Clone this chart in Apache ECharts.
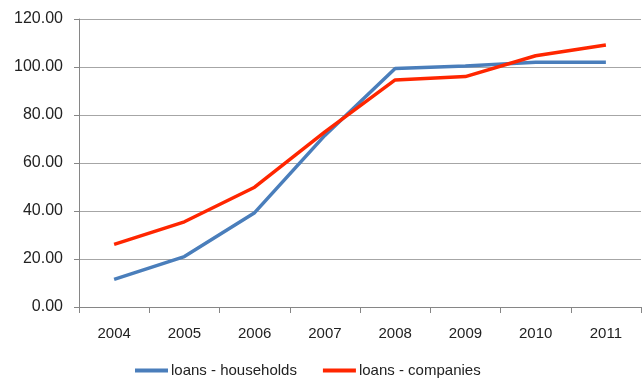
<!DOCTYPE html>
<html><head><meta charset="utf-8">
<script src="https://cdn.jsdelivr.net/npm/echarts@6/dist/echarts.min.js"></script>
<style>html,body{margin:0;padding:0;background:#fff}#c{width:642px;height:379px}</style>
</head><body><div id="c"></div>
<script>
const categories = ['2004','2005','2006','2007','2008','2009','2010','2011'];
const households = [11.5, 21.0, 39.3, 71.5, 99.4, 100.4, 102.0, 102.0];
const companies = [26.1, 35.5, 49.9, 73.0, 94.6, 96.0, 104.7, 109.2];
const seriesNames = ['loans - households', 'loans - companies'];
const FONT = '"Liberation Sans", Arial, sans-serif';
const chart = echarts.init(document.getElementById('c'), null, {renderer: 'canvas'});
chart.setOption({
  animation: false,
  grid: {left: 79, right: 1, top: 19, bottom: 72, containLabel: false},
  legend: {
    top: 358, left: 130, itemGap: 26, itemWidth: 33, itemHeight: 4,
    icon: 'rect',
    textStyle: {fontFamily: FONT, fontSize: 15, color: '#222', padding: [0,0,0,-2]},
    data: seriesNames
  },
  xAxis: {
    type: 'category', data: categories, boundaryGap: true,
    axisLine: {lineStyle: {color: '#868686', width: 1}},
    axisTick: {show: true, length: 6, lineStyle: {color: '#868686'}, alignWithLabel: false},
    axisLabel: {fontFamily: FONT, fontSize: 15, color: '#222', margin: 19}
  },
  yAxis: {
    type: 'value', min: 0, max: 120, interval: 20,
    axisLine: {show: true, lineStyle: {color: '#868686', width: 1}},
    axisTick: {show: true, length: 5, lineStyle: {color: '#868686'}},
    axisLabel: {fontFamily: FONT, fontSize: 16, color: '#222', margin: 16,
      formatter: v => v.toFixed(2)},
    splitLine: {lineStyle: {color: '#a6a6a6', width: 1}}
  },
  series: [
    {name: seriesNames[0], type: 'line', data: households, symbol: 'none',
     lineStyle: {color: '#4a7ebb', width: 3.5}, itemStyle: {color: '#4a7ebb'}},
    {name: seriesNames[1], type: 'line', data: companies, symbol: 'none',
     lineStyle: {color: '#ff2600', width: 3.5}, itemStyle: {color: '#ff2600'}}
  ]
});
</script></body></html>
